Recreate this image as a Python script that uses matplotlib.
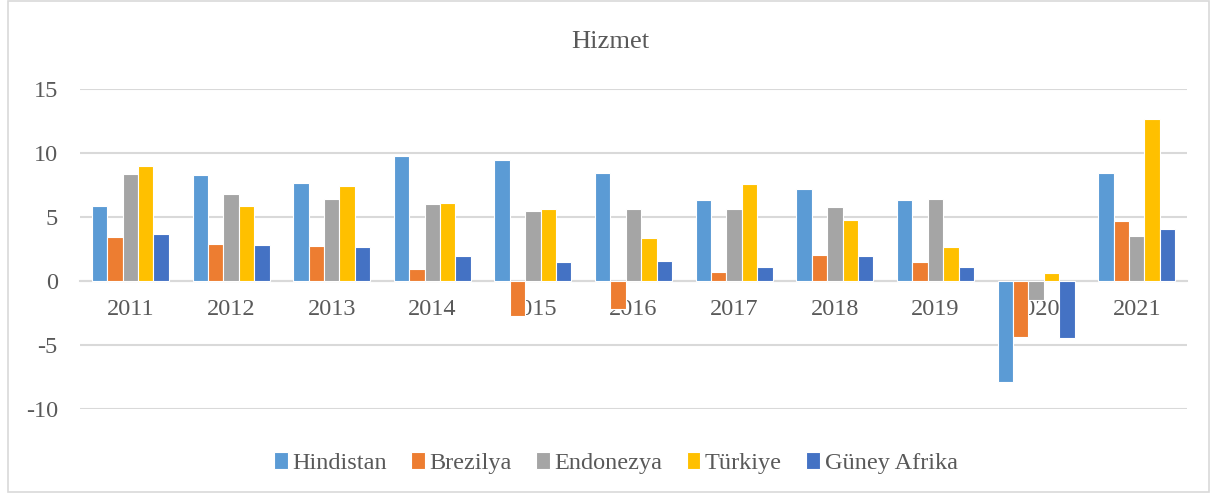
import numpy as np
import matplotlib.pyplot as plt
from matplotlib.patches import Rectangle

years = ['2011', '2012', '2013', '2014', '2015', '2016', '2017', '2018', '2019', '2020', '2021']
hindistan = [5.82, 8.31, 7.62, 9.80, 9.43, 8.43, 6.29, 7.15, 6.29, -7.87, 8.41]
brezilya = [3.45, 2.87, 2.74, 0.94, -2.74, -2.15, 0.73, 2.06, 1.46, -4.39, 4.67]
endonezya = [8.38, 6.79, 6.37, 5.98, 5.43, 5.64, 5.64, 5.80, 6.37, -1.47, 3.53]
turkiye = [8.96, 5.88, 7.39, 6.06, 5.59, 3.39, 7.55, 4.75, 2.69, 0.63, 12.64]
guney_afrika = [3.68, 2.84, 2.66, 1.98, 1.51, 1.57, 1.12, 1.96, 1.07, -4.44, 4.04]

series = [
    ('Hindistan', hindistan, '#5B9BD5'),
    ('Brezilya', brezilya, '#ED7D31'),
    ('Endonezya', endonezya, '#A5A5A5'),
    ('Türkiye', turkiye, '#FFC000'),
    ('Güney Afrika', guney_afrika, '#4472C4'),
]

plt.rcParams['font.family'] = ['Liberation Serif', 'DejaVu Serif']
plt.rcParams['axes.unicode_minus'] = False
txt_color = '#595959'
grid_color = '#D9D9D9'

fig = plt.figure(figsize=(12.13, 4.94), dpi=100)
ax = fig.add_axes([0.066, 0.172, 0.9126, 0.648])

x = np.arange(len(years))
w = 0.153
for i, (name, vals, col) in enumerate(series):
    ax.bar(x + (i - 2) * w, vals, w, color=col, edgecolor='white', linewidth=0.8, label=name, zorder=3)

ax.set_xlim(-0.5, len(years) - 0.5)
ax.set_ylim(-10, 15)
ax.set_yticks([-10, -5, 0, 5, 10, 15])
ax.yaxis.grid(True, color=grid_color, linewidth=1.5, zorder=0)
ax.set_axisbelow(True)
for s in ['top', 'right', 'left']:
    ax.spines[s].set_visible(False)
ax.spines['bottom'].set_position(('data', 0))
ax.spines['bottom'].set_color(grid_color)
ax.spines['bottom'].set_linewidth(1.5)
ax.spines['bottom'].set_zorder(2)
ax.set_xticks(x)
ax.set_xticklabels(years)
ax.tick_params(axis='both', length=0, labelsize=17.5, colors=txt_color)
ax.tick_params(axis='x', pad=13)
ax.tick_params(axis='y', pad=16)

fig.text(0.503, 0.915, 'Hizmet', ha='center', va='center', fontsize=19, color=txt_color)

ax.legend(loc='center', bbox_to_anchor=(0.484, -0.17), ncol=5, frameon=False,
          fontsize=17.5, labelcolor=txt_color, handlelength=0.55, handleheight=0.7,
          handletextpad=0.2, columnspacing=1.0)

fig.patches.append(Rectangle((0.007, 0.004), 0.99, 0.993, transform=fig.transFigure,
                             fill=False, edgecolor=grid_color, linewidth=1.2))

fig.savefig('out.png', dpi=100)
